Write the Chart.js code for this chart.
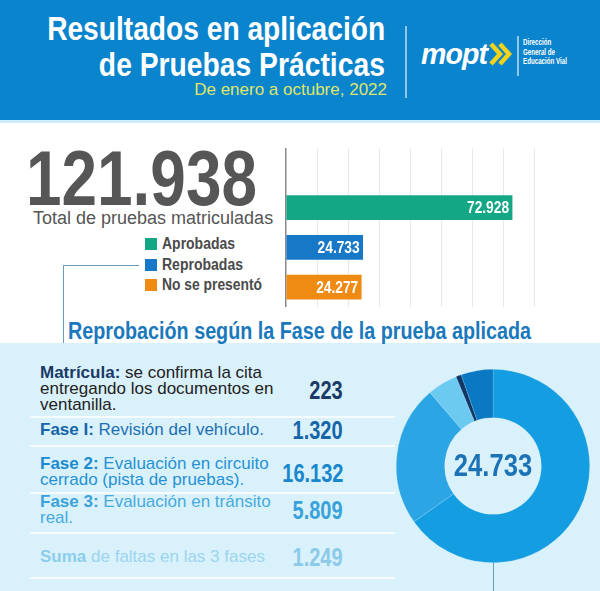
<!DOCTYPE html>
<html>
<head>
<meta charset="utf-8">
<script src="https://cdn.jsdelivr.net/npm/chart.js@4.4.0/dist/chart.umd.min.js"></script>
<style>
  body { margin: 0; width: 600px; height: 591px; overflow: hidden; background: #fff; font-family: "Liberation Sans", Arial, sans-serif; }
  .abs { position: absolute; white-space: nowrap; }
  .l { transform-origin: left center; }
  .r { transform-origin: right center; }
  #band { left: 0; top: 0; width: 600px; height: 120px; background: #0a84cc; }
  #strip { left: 0; top: 120px; width: 600px; height: 3px; background: #cdeefa; }
  .title { color: #fff; font-weight: bold; font-size: 33px; right: 215px; line-height: 34px; }
  #sub { right: 213px; top: 80px; color: #dfe66a; font-size: 17px; }
  .vline { background: rgba(255,255,255,0.55); width: 2px; }
  #mopt { left: 421px; top: 37px; color: #fff; font: italic bold 30px "Liberation Sans", Arial, sans-serif; letter-spacing: -1px; }
  #dgev { left: 523px; top: 38px; color: #fff; font-weight: bold; font-size: 9px; line-height: 9.5px; }
  #big { left: 26px; top: 138px; color: #565656; font-weight: bold; font-size: 77px; line-height: 80px; }
  #total { left: 33px; top: 208px; color: #555; font-size: 18px; }
  .sq { left: 145px; width: 12px; height: 12px; }
  .leg { left: 162px; font-weight: bold; font-size: 16px; color: #4a4a4a; line-height: 18px; }
  .conn { background: #6a9cc0; }
  #heading { left: 68px; top: 318px; color: #1a78bd; font-weight: bold; font-size: 23px; }
  #box { left: 0; top: 343px; width: 600px; height: 248px; background: #d9f1fb; }
  .row { left: 40px; width: 244px; font-size: 17px; line-height: 16px; white-space: normal; }
  .val { right: 257px; font-weight: bold; font-size: 25px; line-height: 26px; }
  .sep { left: 30px; width: 365px; height: 1.5px; background: rgba(255,255,255,0.75); }
</style>
</head>
<body>
<div id="band" class="abs"></div>
<div id="strip" class="abs"></div>
<div id="t1" class="abs title r" style="top:12px">Resultados en aplicación</div>
<div id="t2" class="abs title r" style="top:48px">de Pruebas Prácticas</div>
<div id="sub" class="abs">De enero a octubre, 2022</div>
<div class="abs vline" style="left:405px; top:26px; height:72px"></div>
<div id="mopt" class="abs l">mopt</div>
<svg class="abs" style="left:488px; top:41px" width="26" height="26" viewBox="0 0 26 26">
  <polyline points="3,3 12,13 3,23" fill="none" stroke="#f2d31b" stroke-width="4.5"/>
  <polyline points="12,3 21,13 12,23" fill="none" stroke="#f2d31b" stroke-width="4.5"/>
</svg>
<div class="abs vline" style="left:517px; top:36px; height:40px; width:1.5px"></div>
<div id="dgev" class="abs l">Dirección<br>General de<br>Educación Vial</div>

<div id="big" class="abs l">121.938</div>
<div id="total" class="abs">Total de pruebas matriculadas</div>
<div id="legend"></div>

<div class="abs conn" style="left:63px; top:265px; width:76px; height:1px"></div>
<div class="abs conn" style="left:63px; top:265px; width:1px; height:78px"></div>

<div id="box" class="abs"></div>
<div id="heading" class="abs l">Reprobación según la Fase de la prueba aplicada</div>
<div id="table"></div>

<canvas id="barChart" class="abs" style="left:280px; top:148px" width="260" height="159"></canvas>
<canvas id="donutChart" class="abs" style="left:393px; top:366px" width="200" height="200"></canvas>
<div class="abs conn" style="left:493px; top:563px; width:1px; height:28px"></div>

<script>
// resultados generales
const resultLabels = ['Aprobadas', 'Reprobadas', 'No se presentó']
const resultValues = [72928, 24733, 24277]
const resultColors = ['#13a785', '#1878c8', '#ef8a12']
const axisMax = 80000

// reprobacion por fase
const phaseNames = ['Matrícula:', 'Fase I:', 'Fase 2:', 'Fase 3:', 'Suma']
const phaseTexts = [' se confirma la cita entregando los documentos en ventanilla.', ' Revisión del vehículo.', ' Evaluación en circuito cerrado (pista de pruebas).', ' Evaluación en tránsito real.', ' de faltas en las 3 fases']
const phaseValues = [223, 1320, 16132, 5809, 1249]
const phaseColors = ['#0d3868', '#0a78c3', '#159de2', '#2ba5e3', '#6cc9ef']
// order of the slices, clockwise from the top
const donutOrder = [2, 3, 4, 0, 1]

const FONT = '"Liberation Sans", Arial, sans-serif'
const NARROW = 0.8   // no condensed font installed, squeeze instead

function fmt(v) {
  return String(v).replace(/\B(?=(\d{3})+(?!\d))/g, '.')
}

// squeeze an element to a width
function fit(el, w) {
  if (typeof el == 'string') el = document.getElementById(el)
  var cur = el.getBoundingClientRect().width
  el.style.transform = 'scaleX(' + (w / cur) + ')'
}

// legend (html)
var legTops = [235, 256, 276]
var legWidths = [73, 81, 100]
var legHtml = ''
for (var i = 0; i < resultLabels.length; i++) {
  legHtml += '<div class="abs sq" style="top:' + (legTops[i] + 3) + 'px; background:' + resultColors[i] + '"></div>'
  legHtml += '<div id="leg' + i + '" class="abs leg l" style="top:' + legTops[i] + 'px">' + resultLabels[i] + '</div>'
}
document.getElementById('legend').innerHTML = legHtml
for (var i = 0; i < resultLabels.length; i++) fit('leg' + i, legWidths[i])

// table rows
var rowTops = [365, 422, 456, 494, 549]
var valTops = [377, 417, 460, 497, 544]
var sepTops = [416, 445, 492, 532, 577]
var labColors = ['#1b3a66', '#1565a8', '#1b8bd0', '#3aa2da', '#8ccdec']
var txtColors = ['#222222', '#1d6fb2', '#2592d4', '#47aade', '#9cd4ee']
var valColors = ['#1b3a66', '#1565a8', '#1a86cc', '#3aa2da', '#8ccaea']
var rowHtml = ''
for (var i = 0; i < phaseNames.length; i++) {
  rowHtml += '<div class="abs row" style="top:' + rowTops[i] + 'px; color:' + txtColors[i] + '"><b style="color:' + labColors[i] + '">' + phaseNames[i] + '</b>' + phaseTexts[i] + '</div>'
  rowHtml += '<div class="abs val r" style="top:' + valTops[i] + 'px; color:' + valColors[i] + '; transform:scaleX(' + NARROW + ')">' + fmt(phaseValues[i]) + '</div>'
  rowHtml += '<div class="abs sep" style="top:' + sepTops[i] + 'px"></div>'
}
document.getElementById('table').innerHTML = rowHtml

fit('t1', 338)
fit('t2', 286)
fit('big', 231)
fit('heading', 463)
fit('mopt', 66)
fit('dgev', 44)

// numbers inside the bars
const barLabels = {
  id: 'barLabels',
  afterDatasetsDraw(chart) {
    var ctx = chart.ctx
    var meta = chart.getDatasetMeta(0)
    meta.data.forEach(function (bar, i) {
      var v = chart.data.datasets[0].data[i]
      if (v == null) return
      ctx.save()
      ctx.fillStyle = '#fff'
      ctx.font = 'bold 16px ' + FONT
      ctx.textAlign = 'right'
      ctx.textBaseline = 'middle'
      ctx.translate(bar.x - 3, bar.y + 1)
      ctx.scale(0.86, 1)
      ctx.fillText(fmt(v), 0, 0)
      ctx.restore()
    })
  }
}

new Chart(document.getElementById('barChart'), {
  type: 'bar',
  data: {
    // empty first slot leaves room on top like the original
    labels: [''].concat(resultLabels),
    datasets: [{
      data: [null].concat(resultValues),
      backgroundColor: [null].concat(resultColors),
      barThickness: 24
    }]
  },
  options: {
    indexAxis: 'y',
    responsive: false,
    animation: false,
    layout: { padding: { left: 6, right: 6, top: 0, bottom: 0 } },
    plugins: { legend: { display: false }, tooltip: { enabled: false } },
    scales: {
      x: {
        min: 0, max: axisMax,
        ticks: { display: false, stepSize: 10000 },
        border: { display: false },
        grid: {
          drawTicks: false,
          lineWidth: function (c) { return c.index === 0 ? 1.5 : 1 },
          color: function (c) { return c.index === 0 ? '#8a8a8a' : '#e9e9e9' }
        }
      },
      y: { display: false }
    }
  },
  plugins: [barLabels]
})

// total in the middle of the donut
const centerText = {
  id: 'centerText',
  afterDraw(chart) {
    var ctx = chart.ctx
    var arc = chart.getDatasetMeta(0).data[0]
    var total = chart.data.datasets[0].data.reduce(function (a, b) { return a + b }, 0)
    ctx.save()
    ctx.fillStyle = '#1b72b5'
    ctx.font = 'bold 32px ' + FONT
    ctx.textAlign = 'center'
    ctx.textBaseline = 'middle'
    ctx.translate(arc.x, arc.y + 1)
    ctx.scale(NARROW, 1)
    ctx.fillText(fmt(total), 0, 0)
    ctx.restore()
  }
}

new Chart(document.getElementById('donutChart'), {
  type: 'doughnut',
  data: {
    labels: donutOrder.map(function (i) { return phaseNames[i] }),
    datasets: [{
      data: donutOrder.map(function (i) { return phaseValues[i] }),
      backgroundColor: donutOrder.map(function (i) { return phaseColors[i] }),
      borderColor: 'rgba(255,255,255,0.25)',
      borderWidth: 0.6
    }]
  },
  options: {
    responsive: false,
    animation: false,
    cutout: '50%',
    layout: { padding: 3 },
    plugins: { legend: { display: false }, tooltip: { enabled: false } }
  },
  plugins: [centerText]
})
</script>
</body>
</html>
